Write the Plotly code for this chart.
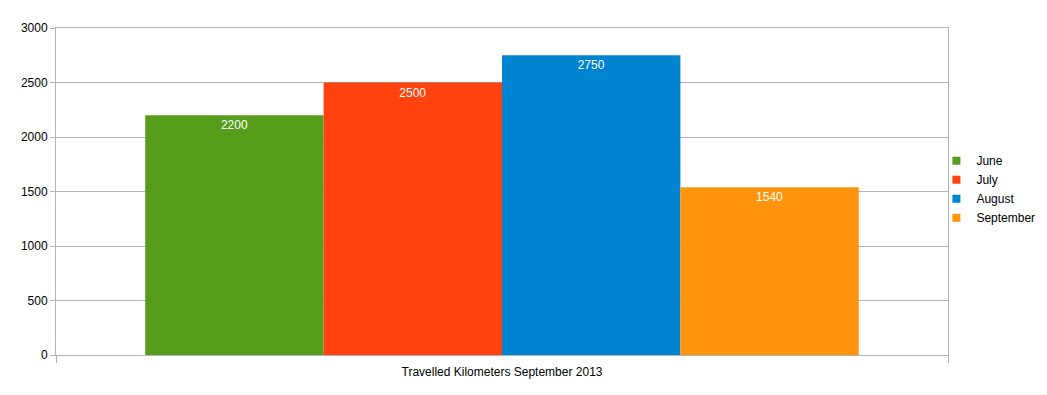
import plotly.graph_objects as go

category = ["Travelled Kilometers September 2013"]
months = ["June", "July", "August", "September"]
values = [2200, 2500, 2750, 1540]
colors = ["#579D1C", "#FF420E", "#0084D1", "#FF950E"]
y_ticks = [0, 500, 1000, 1500, 2000, 2500, 3000]

fig = go.Figure()
for m, v, c in zip(months, values, colors):
    fig.add_trace(go.Bar(
        name=m, x=category, y=[v], marker=dict(color=c, line=dict(width=0)),
        text=[str(v)], textposition="inside", insidetextanchor="end",
        textfont=dict(color="white", size=12, family="Liberation Sans, Arial"),
        hoverinfo="name+y", showlegend=False, legendgroup=m,
    ))
# legend entries with small square symbols
for m, c in zip(months, colors):
    fig.add_trace(go.Scatter(
        name=m, x=[None], y=[None], mode="markers", legendgroup=m,
        marker=dict(symbol="square", size=8, color=c), showlegend=True,
    ))

fig.update_layout(
    width=1047, height=395,
    margin=dict(l=56, r=99, t=28, b=40, pad=0, autoexpand=False),
    paper_bgcolor="white", plot_bgcolor="white",
    barmode="group", bargap=0.2, bargroupgap=0,
    font=dict(family="Liberation Sans, Arial", size=12, color="#000000"),
    showlegend=True,
    legend=dict(x=0.987, xanchor="left", y=0.507, yanchor="middle",
                font=dict(size=12), itemwidth=30, tracegroupgap=0,
                bgcolor="rgba(0,0,0,0)"),
    xaxis=dict(showline=True, linecolor="#b3b3b3", linewidth=1, mirror=True,
               ticks="outside", ticklen=7, tickcolor="#b3b3b3",
               tickson="boundaries", showgrid=False, ticklabelstandoff=6,
               tickfont=dict(size=12)),
    yaxis=dict(range=[0, 3000], tickvals=y_ticks, showgrid=True,
               gridcolor="#b3b3b3", gridwidth=1, showline=True,
               linecolor="#b3b3b3", linewidth=1, mirror=True,
               ticks="outside", ticklen=5, tickcolor="#b3b3b3",
               zeroline=False, tickfont=dict(size=12)),
)

fig.write_html("out.html", config={"displayModeBar": False},
               post_script="document.body.style.margin='0';")
